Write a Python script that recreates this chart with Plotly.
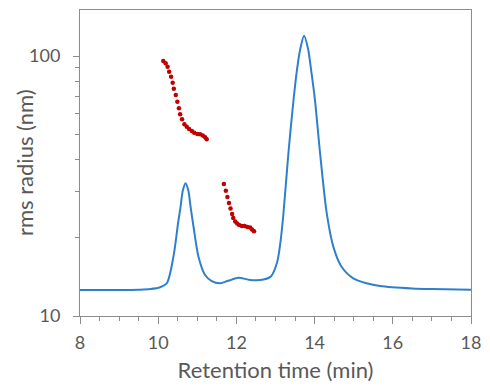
import plotly.graph_objects as go

# Chromatogram (detector signal, arbitrary units)
chrom_time = [8.0, 9.0, 9.5, 9.8, 10.05, 10.22, 10.39, 10.51, 10.57, 10.63, 10.70, 10.77, 10.83,
              10.90, 11.03, 11.20, 11.37, 11.58, 11.79, 12.05, 12.35, 12.69, 12.88, 13.04, 13.12,
              13.20, 13.33, 13.46, 13.55, 13.63, 13.73, 13.83, 13.92, 14.01, 14.14, 14.31, 14.48,
              14.69, 14.99, 15.33, 15.67, 16.5, 17.0, 18.0]
chrom_signal = [8.5, 8.5, 8.6, 8.8, 9.4, 10.7, 19.4, 30.5, 35.5, 41.0, 43.4, 41.0, 35.5,
                29.5, 19.4, 13.4, 11.4, 10.7, 11.5, 12.5, 11.8, 11.9, 12.9, 17.5, 23.5,
                33.0, 53.2, 70.5, 80.5, 87.0, 91.6, 87.5, 79.5, 70.5, 53.2, 33.6, 22.6,
                16.1, 12.3, 10.7, 9.8, 9.0, 8.8, 8.6]

# rms radius, first peak
rg1_time = [10.13, 10.19, 10.24, 10.28, 10.33, 10.37, 10.40, 10.45, 10.49, 10.53, 10.56,
            10.61, 10.67, 10.73, 10.79, 10.86, 10.92, 11.00, 11.07, 11.14, 11.20, 11.24]
rg1_radius = [95.7, 93.8, 91.0, 87.0, 83.2, 78.9, 74.8, 70.8, 66.7, 62.9, 59.7,
              57.1, 54.7, 53.5, 52.4, 51.5, 50.7, 50.1, 50.0, 49.5, 48.7, 47.8]

# rms radius, second peak
rg2_time = [11.68, 11.73, 11.77, 11.81, 11.85, 11.89, 11.92, 11.97, 12.02, 12.07, 12.14,
            12.21, 12.28, 12.35, 12.40, 12.45]
rg2_radius = [32.2, 30.3, 28.7, 27.2, 25.9, 24.7, 23.8, 23.1, 22.7, 22.4, 22.2,
              22.2, 22.0, 21.9, 21.5, 21.2]

x_ticks = [8, 10, 12, 14, 16, 18]
y_ticks = [10, 100]
y_minor = [20, 30, 40, 50, 60, 70, 80, 90]

FONT = "Lato"
GRAY = "#595959"
AXIS = "#8C8C8C"

fig = go.Figure()
fig.add_trace(go.Scatter(x=rg1_time, y=rg1_radius, mode="markers",
                         marker=dict(color="#C00000", size=4.5), yaxis="y"))
fig.add_trace(go.Scatter(x=rg2_time, y=rg2_radius, mode="markers",
                         marker=dict(color="#C00000", size=4.5), yaxis="y"))
fig.add_trace(go.Scatter(x=chrom_time, y=chrom_signal, mode="lines",
                         line=dict(color="#2E80CC", width=2, shape="spline", smoothing=0.8),
                         yaxis="y2"))

# page body has an 8px default margin, so the figure is 474x375 and offset accordingly
fig.update_layout(
    width=474, height=375,
    margin=dict(l=72, r=11, t=2, b=67),
    paper_bgcolor="white", plot_bgcolor="white",
    showlegend=False,
    font=dict(family=FONT, color=GRAY, size=18),
    xaxis=dict(range=[8, 18], tickvals=x_ticks, ticks="outside", ticklen=7, tickcolor=AXIS,
               showgrid=False, zeroline=False, showline=True, linecolor=AXIS, mirror=True,
               minor=dict(dtick=0.5, ticks="outside", ticklen=4, tickcolor=AXIS),
               ticklabelstandoff=3, automargin=False,
               title=dict(text="Retention time (min)", font=dict(size=22, color=GRAY), standoff=12),
               tickfont=dict(size=18, color=GRAY)),
    yaxis=dict(type="log", range=[1, 2.177], tickvals=y_ticks, ticks="outside", ticklen=6,
               tickcolor=AXIS, showgrid=False, zeroline=False, showline=True, linecolor=AXIS,
               mirror=True, ticklabelstandoff=9, automargin=False,
               minor=dict(tickvals=y_minor, ticks="outside", ticklen=4, tickcolor=AXIS),
               tickfont=dict(size=18, color=GRAY)),
    yaxis2=dict(range=[0, 100], overlaying="y", visible=False),
    annotations=[dict(text="rms radius (nm)", textangle=-90, xref="paper", yref="paper",
                      x=0, y=0.5, xanchor="center", yanchor="middle", xshift=-56,
                      showarrow=False, font=dict(size=22, color=GRAY, family=FONT))],
)

fig.write_html("out.html")
